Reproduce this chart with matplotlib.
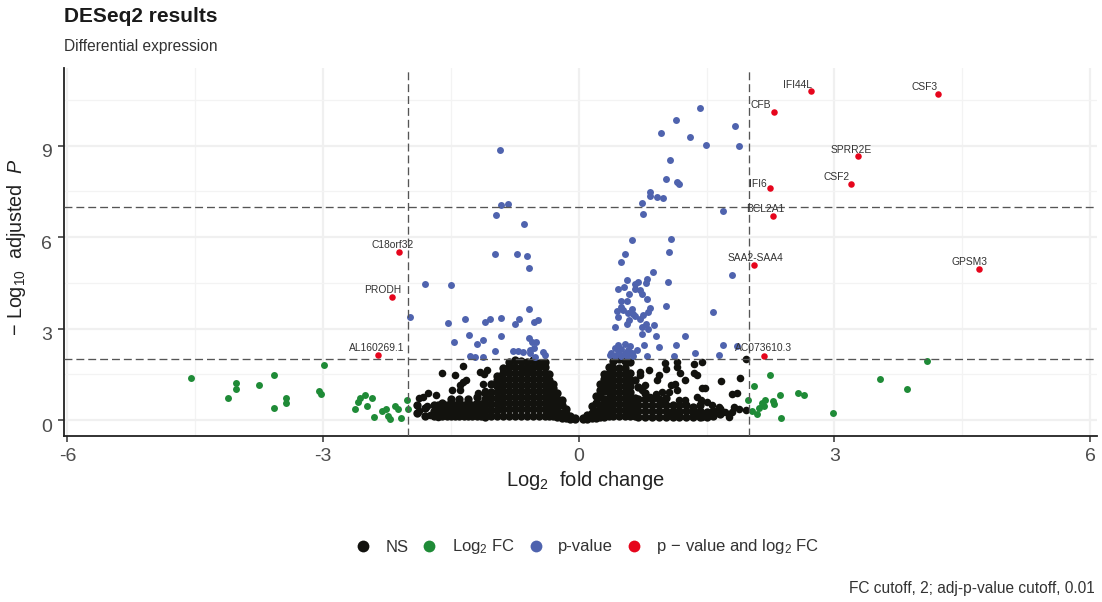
import matplotlib
matplotlib.use("Agg")
import matplotlib.pyplot as plt
from matplotlib.lines import Line2D
from matplotlib.transforms import ScaledTranslation
import numpy as np

plt.rcParams['font.family'] = ['Liberation Sans', 'DejaVu Sans']
plt.rcParams['mathtext.fontset'] = 'custom'
plt.rcParams['mathtext.rm'] = 'Liberation Sans'
plt.rcParams['mathtext.it'] = 'Liberation Sans:italic'
plt.rcParams['mathtext.bf'] = 'Liberation Sans:bold'

# NS points, dense part: one list of y values per x column
ns_col_x = [-0.05, -0.10, -0.15, -0.20, -0.25, -0.30, -0.35, -0.40, -0.47, -0.54, -0.61,
            -0.68, -0.75, -0.82, -0.89, -0.96, -1.03, -1.10, -1.15, -1.20, -1.25, -1.30, -1.35,
            -1.40, -1.45, -1.50, -1.55, -1.60, -1.65, -1.70, -1.80, -1.90,
            0.05, 0.10, 0.15, 0.20, 0.25, 0.30, 0.35, 0.40, 0.47, 0.54, 0.60, 0.66,
            0.70, 0.78, 0.86, 0.94, 1.02, 1.10, 1.18, 1.26, 1.34, 1.42, 1.50, 1.58, 1.66]
ns_col_y = [[0.03, 0.06], [0.05, 0.15], [0.06, 0.2, 0.35], [0.08, 0.25, 0.5, 0.65],
            [0.1, 0.3, 0.5, 0.7, 0.88], [0.12, 0.3, 0.5, 0.7, 0.9, 1.05, 1.2],
            [0.12, 0.3, 0.5, 0.7, 0.9, 1.1, 1.3, 1.5],
            [0.15, 0.35, 0.55, 0.75, 0.95, 1.15, 1.35, 1.55, 1.75, 1.92],
            [0.15, 0.35, 0.55, 0.75, 0.95, 1.15, 1.35, 1.55, 1.75, 1.88],
            [0.15, 0.35, 0.55, 0.75, 0.95, 1.15, 1.35, 1.55, 1.75, 1.98],
            [0.15, 0.35, 0.55, 0.75, 0.95, 1.15, 1.35, 1.55, 1.72, 1.9],
            [0.15, 0.35, 0.55, 0.75, 0.95, 1.15, 1.35, 1.55, 1.75, 1.95],
            [0.15, 0.35, 0.55, 0.75, 0.95, 1.15, 1.35, 1.55, 1.75, 1.98],
            [0.15, 0.35, 0.55, 0.75, 0.95, 1.15, 1.35, 1.55, 1.75, 1.9],
            [0.15, 0.35, 0.55, 0.75, 0.95, 1.15, 1.35, 1.55, 1.7],
            [0.12, 0.32, 0.52, 0.72, 0.92, 1.12, 1.3, 1.45],
            [0.12, 0.32, 0.52, 0.72, 0.92, 1.2], [0.1, 0.3, 0.5, 0.7, 0.9],
            [0.12, 0.32, 0.52], [0.15, 0.35, 0.55, 0.75], [0.12, 0.32, 0.5],
            [0.15, 0.35, 0.55, 0.7], [0.12, 0.32, 0.5], [0.15, 0.35, 0.55, 0.7], [0.12, 0.32, 0.5],
            [0.15, 0.35, 0.55, 0.7], [0.12, 0.32, 0.48], [0.15, 0.35, 0.55], [0.12, 0.32, 0.5],
            [0.12, 0.3, 0.5], [0.15, 0.4], [0.25, 0.5],
            [0.03, 0.07], [0.05, 0.17], [0.06, 0.25, 0.45], [0.08, 0.3, 0.55, 0.8],
            [0.1, 0.3, 0.5, 0.75, 1.0, 1.2], [0.1, 0.3, 0.5, 0.7, 0.95, 1.15, 1.35, 1.5],
            [0.12, 0.32, 0.52, 0.72, 0.92, 1.12, 1.32, 1.55, 1.75],
            [0.12, 0.32, 0.52, 0.72, 0.92, 1.12, 1.32, 1.52, 1.72, 1.95],
            [0.12, 0.32, 0.52, 0.72, 0.92, 1.12, 1.32, 1.52, 1.72, 2.0],
            [0.12, 0.32, 0.52, 0.72, 0.92, 1.12, 1.32, 1.52, 1.72, 1.95],
            [0.12, 0.32, 0.52, 0.72, 0.92, 1.12, 1.32, 1.55, 1.9],
            [0.12, 0.32, 0.52, 0.72, 1.3], [0.1, 0.3, 0.5, 0.7, 1.1],
            [0.1, 0.3, 0.5, 0.7, 0.9], [0.1, 0.3, 0.5, 0.7], [0.1, 0.3, 0.5, 0.7],
            [0.1, 0.3, 0.5, 0.72], [0.1, 0.3, 0.5], [0.1, 0.3, 0.5], [0.1, 0.3, 0.48],
            [0.1, 0.28, 0.42], [0.1, 0.3, 0.5], [0.1, 0.28], [0.12, 0.3], [0.2, 0.35]]

# NS points, loose ones around the dense part
ns_x = [-1.61, -1.45, -1.36, -1.16, -1.11, -1.08, -1.32, -1.36, -1.39, -1.49, -1.77, -1.87,
        -1.83, -1.67, -1.12, -1.10, -1.18, -1.39, -1.87, -1.75, -1.65, -1.78,
        1.01, 1.02, 1.15, 1.15, 1.19, 1.25, 1.35, 1.45, 1.35, 1.39, 0.94, 0.92, 1.08, 1.13,
        1.15, 0.98, 1.06, 1.45, 1.48, 1.80, 1.86, 1.67, 1.89, 1.96, 0.72, 0.82, 0.72, 0.78,
        0.74, 0.90, 0.84, 0.98, 1.17, 1.25, 1.39, 1.43, 1.51, 1.56, 1.64, 1.82, 1.88, 1.72,
        1.80, 1.96, 1.45, 1.76, 1.37, 1.17, 1.06]
ns_y = [1.53, 1.48, 1.78, 1.58, 1.50, 1.64, 1.33, 1.26, 0.98, 0.98, 0.90, 0.71,
        0.77, 0.82, 1.20, 0.96, 0.90, 1.15, 0.30, 0.16, 0.09, 0.46,
        1.86, 1.66, 1.91, 1.75, 1.53, 1.31, 1.84, 1.91, 1.56, 1.48, 1.48, 1.31, 1.15, 1.20,
        0.98, 0.93, 0.93, 1.04, 1.04, 0.85, 0.90, 1.29, 1.39, 1.99, 1.58, 1.64, 1.48, 1.15,
        0.98, 0.87, 0.77, 0.66, 0.66, 0.66, 0.77, 0.66, 0.60, 0.49, 0.44, 0.44, 0.38, 0.27,
        0.27, 0.33, 0.11, 0.09, 0.22, 0.16, 0.16]

fc_x = [-4.55, -4.11, -4.02, -4.02, -3.75, -3.58, -3.58, -3.43, -3.43, -3.05, -3.03, -2.99,
        -2.51, -2.57, -2.59, -2.43, -2.62, -2.49, -2.40, -2.31, -2.26, -2.16, -2.12, -2.24,
        -2.21, -2.09, -2.02, -2.00,
        2.24, 2.06, 1.99, 2.36, 2.19, 2.28, 2.29, 2.15, 2.17, 2.11, 2.03, 2.09, 2.37, 2.57,
        2.64, 2.98, 3.53, 3.85, 4.09]
fc_y = [1.38, 0.72, 1.21, 1.02, 1.15, 1.48, 0.39, 0.72, 0.56, 0.95, 0.85, 1.80,
        0.84, 0.71, 0.60, 0.71, 0.35, 0.46, 0.11, 0.30, 0.36, 0.47, 0.35, 0.13,
        0.05, 0.08, 0.66, 0.35,
        1.48, 1.11, 0.66, 0.84, 0.66, 0.62, 0.52, 0.55, 0.47, 0.40, 0.30, 0.20, 0.08, 0.89,
        0.81, 0.23, 1.34, 1.02, 1.93]

p_x = [1.42, 1.14, 0.97, 1.30, 1.83, 1.49, 1.88, 1.07, 1.02, 1.15, 1.18, 0.84, 0.84, 0.92,
       0.99, 0.74, 0.75, 1.69, 0.62, 1.08, 1.06, 0.54, 0.50, 1.80, 0.87, 0.80, 0.57, 1.05,
       0.46, 0.53, 0.66, 0.70, 0.79, 0.66, 0.72, 0.74, 0.59, 0.80, 0.49, 0.57, 1.02, 0.83,
       0.49, 0.45, 0.52, 0.62, 0.58, 0.64, 0.81, 1.58, 0.46, 0.66, 0.72, 0.75, 0.59, 0.56,
       0.43, 0.74, 0.79, 0.81, 0.88, 0.74, 0.90, 1.25, 0.77, 0.94, 1.14, 1.69, 1.86, 1.36,
       1.64, 1.12, 0.80, 0.54, 0.46, 0.60, 0.42, 0.50, 0.58, 0.68, 0.38, 0.46, 0.54, 0.62,
       0.64, 0.37, 0.42, 0.49, 0.56,
       -0.92, -0.91, -0.83, -0.97, -0.64, -0.98, -0.73, -0.61, -0.58, -1.80, -1.50, -0.59,
       -1.98, -1.53, -1.34, -1.10, -1.04, -0.91, -0.70, -0.75, -0.53, -0.48, -1.29, -1.47,
       -1.19, -1.12, -0.91, -0.59, -0.55, -0.50, -0.52, -0.57, -0.77, -0.71, -0.66, -0.98,
       -1.28, -1.22, -1.12, -0.42, -0.40, -0.57, -0.51]
p_y = [10.24, 9.84, 9.40, 9.28, 9.64, 9.03, 8.97, 8.52, 7.89, 7.80, 7.74, 7.49, 7.34, 7.32,
       7.27, 7.11, 6.74, 6.84, 5.91, 5.93, 5.50, 5.45, 5.19, 4.77, 4.86, 4.64, 4.59, 4.53,
       4.30, 4.35, 4.45, 4.53, 4.48, 4.30, 4.26, 4.12, 4.13, 3.97, 3.92, 3.92, 3.73, 3.68,
       3.72, 3.57, 3.61, 3.64, 3.52, 3.49, 3.55, 3.53, 3.37, 3.41, 3.33, 3.44, 3.28, 3.16,
       3.04, 3.06, 3.14, 2.98, 3.11, 2.81, 2.76, 2.76, 2.45, 2.40, 2.45, 2.45, 2.43, 2.21,
       2.14, 2.11, 2.10, 2.51, 2.46, 2.44, 2.35, 2.33, 2.30, 2.30, 2.21, 2.19, 2.19, 2.19,
       2.10, 2.12, 2.10, 2.10, 2.10,
       8.86, 7.06, 7.09, 6.73, 6.44, 5.43, 5.45, 5.39, 4.99, 4.45, 4.42, 3.64,
       3.37, 3.17, 3.30, 3.20, 3.30, 3.34, 3.33, 3.14, 3.20, 3.29, 2.78, 2.55,
       2.51, 2.62, 2.75, 2.68, 2.57, 2.57, 2.35, 2.30, 2.28, 2.28, 2.24, 2.25,
       2.10, 2.06, 2.08, 2.24, 2.13, 2.19, 2.08]

gene_names = ['IFI44L', 'CSF3', 'CFB', 'SPRR2E', 'CSF2', 'IFI6', 'BCL2A1', 'SAA2-SAA4',
              'GPSM3', 'C18orf32', 'PRODH', 'AL160269.1', 'AC073610.3']
gene_x = [2.72, 4.22, 2.29, 3.27, 3.19, 2.24, 2.28, 2.05, 4.69, -2.11, -2.19, -2.36, 2.17]
gene_y = [10.79, 10.69, 10.10, 8.66, 7.74, 7.61, 6.69, 5.08, 4.95, 5.51, 4.03, 2.13, 2.10]
label_dx = [-13, -14, -13, -6, -14, -12, -8, 2, -9, -6, -9, -1, 0]
label_dy = [6, 7, 7, 6, 7, 4, 7, 7, 7, 7, 7, 7, 8]

x_ticks = [-6, -3, 0, 3, 6]
x_tick_labels = ['-6', '-3', '0', '3', '6']
y_ticks = [0, 3, 6, 9]
fc_cutoffs = [-2, 2]
p_cutoffs = [2, 7]

c_ns = '#12120e'
c_fc = '#1f8b37'
c_p = '#4f63ae'
c_both = '#e6051c'

fig = plt.figure(figsize=(11.02, 6.02), dpi=100)
ax = fig.add_axes([64 / 1102, 166 / 602, 1033 / 1102, 368 / 602])

ax.set_axisbelow(True)
ax.set_xticks(x_ticks)
ax.set_xticklabels(x_tick_labels)
ax.set_yticks(y_ticks)
ax.set_xticks([-4.5, -1.5, 1.5, 4.5], minor=True)
ax.set_yticks([1.5, 4.5, 7.5, 10.5], minor=True)
ax.grid(which='major', color='#f0f0f0', lw=1.6)
ax.grid(which='minor', color='#f3f3f3', lw=0.9)
ax.tick_params(which='minor', length=0)
ax.tick_params(which='major', length=4, width=1.1, color='#333333',
               labelsize=14, labelcolor='#4d4d4d', pad=4.5)

for name in ['top', 'right']:
    ax.spines[name].set_visible(False)
for name in ['left', 'bottom']:
    ax.spines[name].set_linewidth(1.3)
    ax.spines[name].set_color('#222222')

# the y labels sit a little below their gridlines in the original
for lab in ax.get_yticklabels():
    lab.set_transform(lab.get_transform() + ScaledTranslation(0, -5 / 100, fig.dpi_scale_trans))

dense_x = np.repeat(ns_col_x, [len(ys) for ys in ns_col_y])
dense_y = np.concatenate(ns_col_y)
ax.scatter(dense_x, dense_y, s=36, color=c_ns, lw=0, zorder=3)
ax.scatter(ns_x, ns_y, s=30, color=c_ns, lw=0, zorder=3)
ax.scatter(fc_x, fc_y, s=25, color=c_fc, lw=0, zorder=3)
ax.scatter(p_x, p_y, s=25, color=c_p, lw=0, zorder=3)
ax.scatter(gene_x, gene_y, s=22, color=c_both, lw=0, zorder=3)

for v in fc_cutoffs:
    ax.axvline(v, color='#555555', lw=0.95, dashes=(6, 3), zorder=4)
for v in p_cutoffs:
    ax.axhline(v, color='#555555', lw=0.95, dashes=(6, 3), zorder=4)

for i in range(len(gene_names)):
    ax.annotate(gene_names[i], (gene_x[i], gene_y[i]), xytext=(label_dx[i], label_dy[i]),
                textcoords='offset pixels', ha='center', va='center',
                fontsize=7.4, color='#333333', zorder=5)

ax.set_xlim(-6.04, 6.08)
ax.set_ylim(-0.52, 11.54)

fig.text(585 / 1102, 1 - 481 / 602, r'$\mathrm{Log}_{2}\ \ \mathrm{fold\ change}$',
         ha='center', va='center', fontsize=14.5, color='#222222')
fig.text(17 / 1102, 1 - 247 / 602, r'$-\ \mathrm{Log}_{10}\ \ \mathrm{adjusted}\ \ \mathit{P}$',
         ha='center', va='center', rotation=90, fontsize=14.2, color='#222222')

fig.text(64 / 1102, 1 - 16 / 602, 'DESeq2 results', ha='left', va='center',
         fontsize=15, fontweight='bold', color='#1a1a1a')
fig.text(64 / 1102, 1 - 46 / 602, 'Differential expression', ha='left', va='center',
         fontsize=11.2, color='#333333')
fig.text(1095 / 1102, 1 - 589 / 602, 'FC cutoff, 2; adj-p-value cutoff, 0.01', ha='right',
         va='center', fontsize=11.2, color='#333333')

legend_colors = [c_ns, c_fc, c_p, c_both]
legend_labels = ['NS', r'$\mathrm{Log}_{2}\ \mathrm{FC}$', 'p-value',
                 r'$\mathrm{p}\,-\,\mathrm{value}\ \mathrm{and}\ \mathrm{log}_{2}\ \mathrm{FC}$']
handles = [Line2D([], [], ls='none', marker='o', ms=8.5, mec='none', mfc=c) for c in legend_colors]
fig.legend(handles, legend_labels, ncol=4, loc='center', bbox_to_anchor=(585 / 1102, 1 - 547 / 602),
           frameon=False, fontsize=12, labelcolor='#333333', handletextpad=0.58, columnspacing=0.52,
           handlelength=1.5)

fig.savefig('out.png', dpi=100)
